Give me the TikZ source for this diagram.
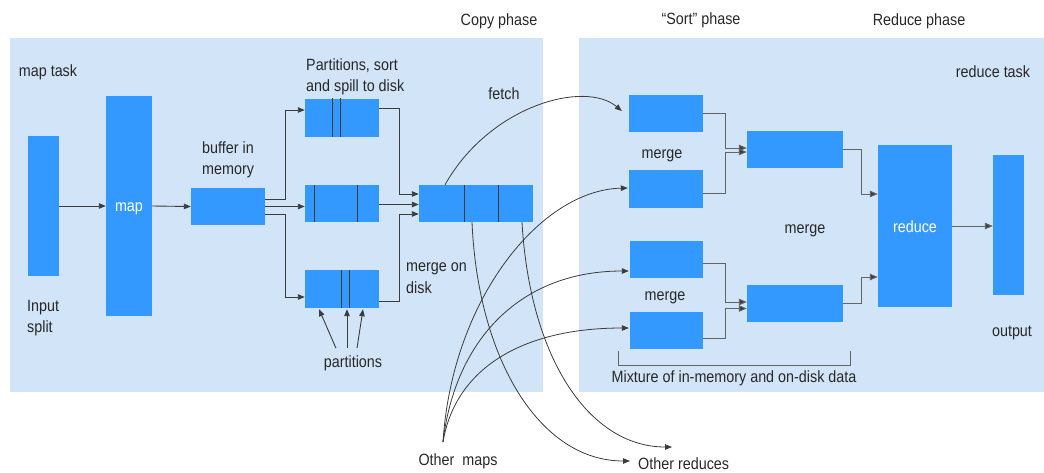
\documentclass[tikz,border=0pt]{standalone}
\usepackage{fontspec}
\setmainfont{Liberation Sans}[FakeStretch=0.88]
\usetikzlibrary{arrows.meta,calc}
\definecolor{panel}{RGB}{210,228,247}
\definecolor{boxblue}{RGB}{51,153,255}
\definecolor{lineC}{RGB}{60,60,60}
\definecolor{lineR}{RGB}{100,100,100}
\definecolor{txt}{RGB}{40,40,40}
\begin{document}
\begin{tikzpicture}[x=1pt,y=-1pt,
  every node/.style={font=\fontsize{16.3}{21.5}\selectfont, text=txt, inner sep=0pt},
  bx/.style={fill=boxblue, draw=none},
  lbl/.style={align=left},
  wlbl/.style={text=white},
  arr/.style={draw=lineC, line width=0.9pt, -{Triangle[length=7pt,width=5.5pt]}},
  arrR/.style={draw=lineR, line width=0.9pt, -{Triangle[length=8pt,width=6.5pt,fill=lineC]}},
  curv/.style={draw=lineC, line width=0.8pt, -{Triangle[length=7pt,width=5.5pt]}},
  div/.style={draw=lineC, line width=0.9pt},
  brk/.style={draw=lineR, line width=0.9pt}
]
\useasboundingbox (0,0) rectangle (1044,472);
% panels
\fill[panel] (10,38) rectangle (543,392);
\fill[panel] (579,38) rectangle (1044,392);

% phase titles
\node (tcopy) at (499,21) {Copy phase};
\node (tsort) at (701,20) {“Sort” phase};
\node (tred) at (919,21) {Reduce phase};
\node (maptask) at (48,72) {map task};
\node (redtask) at (993,72) {reduce task};

% left boxes
\node[bx, minimum width=31pt, minimum height=140pt] (split) at (43.5,206) {};
\node[bx, minimum width=46pt, minimum height=220pt] (map) at (129,206) {};
\node[wlbl] at ([yshift=-3pt]map.center) {map};
\node[bx, minimum width=74pt, minimum height=37pt] (buf) at (228,206.5) {};
\node[bx, minimum width=74pt, minimum height=38pt] (p1) at (342,117.5) {};
\node[bx, minimum width=74pt, minimum height=37pt] (p2) at (342,203.5) {};
\node[bx, minimum width=74pt, minimum height=38pt] (p3) at (342,289) {};

% bottom labels and curve ends
\node (om) at (458,461) {Other\ \ maps};
\node[anchor=west] (or) at (638,464) {Other reduces};
\coordinate (omTop) at (443,442);
\coordinate (orTip) at (672,447);
\coordinate (orTip2) at (630,461);

\node[bx, minimum width=114pt, minimum height=37pt] (mg) at (476,203.5) {};
\node[bx, minimum width=74pt, minimum height=37pt] (r1) at (666,113.5) {};
\node[bx, minimum width=74pt, minimum height=38pt] (r2) at (666,189) {};
\node[bx, minimum width=73pt, minimum height=37pt] (r3) at (666.5,259.5) {};
\node[bx, minimum width=73pt, minimum height=37pt] (r4) at (666.5,330.5) {};

% curves
\draw[curv] (omTop) .. controls (452,300) and (540,190) .. ([xshift=-1pt,yshift=1pt]r2.west);
\draw[curv] (omTop) .. controls (455,340) and (520,271) .. ([xshift=-1pt,yshift=-11.5pt]r3.west);
\draw[curv] (omTop) .. controls (455,370) and (520,328) .. ([xshift=-1pt,yshift=2.5pt]r4.west);
\draw[curv] ([xshift=-4pt]mg.south) .. controls (478,360) and (540,461) .. (orTip2);
\draw[curv] ([xshift=46pt]mg.south) .. controls (530,360) and (590,447) .. (orTip);
\draw[curv] ([xshift=-31pt]mg.north) .. controls (490,105) and (585,80) .. ([xshift=-7pt,yshift=2.5pt]r1.west);

% merge box drawn again over the curve starts
\node[bx, minimum width=114pt, minimum height=37pt] at (476,203.5) {};

% dividers
\draw[div] ([xshift=-10pt]p1.north) -- ([xshift=-10pt]p1.south);
\draw[div] ([xshift=-2pt]p1.north) -- ([xshift=-2pt]p1.south);
\draw[div] ([xshift=-28pt]p2.north) -- ([xshift=-28pt]p2.south);
\draw[div] ([xshift=15pt]p2.north) -- ([xshift=15pt]p2.south);
\draw[div] ([xshift=-1pt]p3.north) -- ([xshift=-1pt]p3.south);
\draw[div] ([xshift=7pt]p3.north) -- ([xshift=7pt]p3.south);
\draw[div] ([xshift=-12pt]mg.north) -- ([xshift=-12pt]mg.south);
\draw[div] ([xshift=22pt]mg.north) -- ([xshift=22pt]mg.south);

% left labels
\node[lbl, anchor=west] (insplit) at (27,318) {Input\\split};
\node[lbl, anchor=west] (bufl) at (202,160) {buffer in\\memory};
\node[lbl, anchor=west] (partl) at (306,77) {Partitions, sort\\and spill to disk};
\node (fetch) at (504,94) {fetch};
\node[lbl, anchor=west] (mod) at (406,278) {merge on\\disk};
\node (parts) at (353,363) {partitions};

% left connectors
\draw[arr] (split.east |- map.west) -- (map.west);
\draw[arr] (map.east) -- (buf.west);
\draw[arr] ([yshift=7.5pt]buf.east) -- ++(20,0) |- ([yshift=7.5pt]p1.west);
\draw[arr] (buf.east) -- (buf.east -| p2.west);
\draw[arr] ([yshift=-8pt]buf.east) -- ++(20,0) |- ([yshift=-8pt]p3.west);
\draw[arr] ([yshift=9.5pt]p1.east) -- ++(20,0) |- ([yshift=9.5pt]mg.west);
\draw[arr] ([yshift=-1pt]p2.east) -- ([yshift=-1pt]mg.west);
\draw[arr] ([yshift=-12pt]p3.east) -- ++(20,0) |- ([yshift=-10.5pt]mg.west);
\draw[arr] ([xshift=-17pt,yshift=7pt]parts.north) -- ([xshift=-23pt,yshift=-1pt]p3.south);
\draw[arr] ([xshift=-6pt,yshift=7pt]parts.north) -- ([xshift=5pt,yshift=-1pt]p3.south);
\draw[arr] ([xshift=4pt,yshift=7pt]parts.north) -- ([xshift=21pt,yshift=-1pt]p3.south);

% right boxes
\node[bx, minimum width=96pt, minimum height=37pt] (m1) at (795,149.5) {};
\node[bx, minimum width=96pt, minimum height=37pt] (m2) at (795,303.5) {};
\node[bx, minimum width=74pt, minimum height=162pt] (red) at (915,226) {};
\node[wlbl] at ([yshift=-1pt]red.center) {reduce};
\node[bx, minimum width=31pt, minimum height=140pt] (out) at (1008.5,225) {};

% right labels
\node (mg1l) at (662,156) {merge};
\node (mg2l) at (665,298) {merge};
\node (mg3l) at (805,231) {merge};
\node (outl) at (1012,333) {output};
\node (mix) at (734,378) {Mixture of in-memory and on-disk data};

% right connectors
\draw[arrR] ([yshift=0.5pt]r1.east) -- ++(22,0) |- ([yshift=1.5pt]m1.west);
\draw[arrR] ([yshift=-4pt]r2.east) -- ++(22,0) |- ([yshift=-2.5pt]m1.west);
\draw[arrR] ([yshift=-3.5pt]r3.east) -- ++(22,0) |- ([yshift=1.5pt]m2.west);
\draw[arrR] ([yshift=-7.5pt]r4.east) -- ++(22,0) |- ([yshift=-5pt]m2.west);
\draw[arrR] (m1.east) -- ++(18,0) |- ([yshift=32pt]red.west);
\draw[arrR] (m2.east) -- ++(18,0) |- ([yshift=-51pt]red.west);
\draw[arrR] (red.east) -- (red.east -| out.west);

% bracket
\draw[brk] (618,351) -- (618,365) -- (850,365) -- (850,351);
\end{tikzpicture}
\end{document}
